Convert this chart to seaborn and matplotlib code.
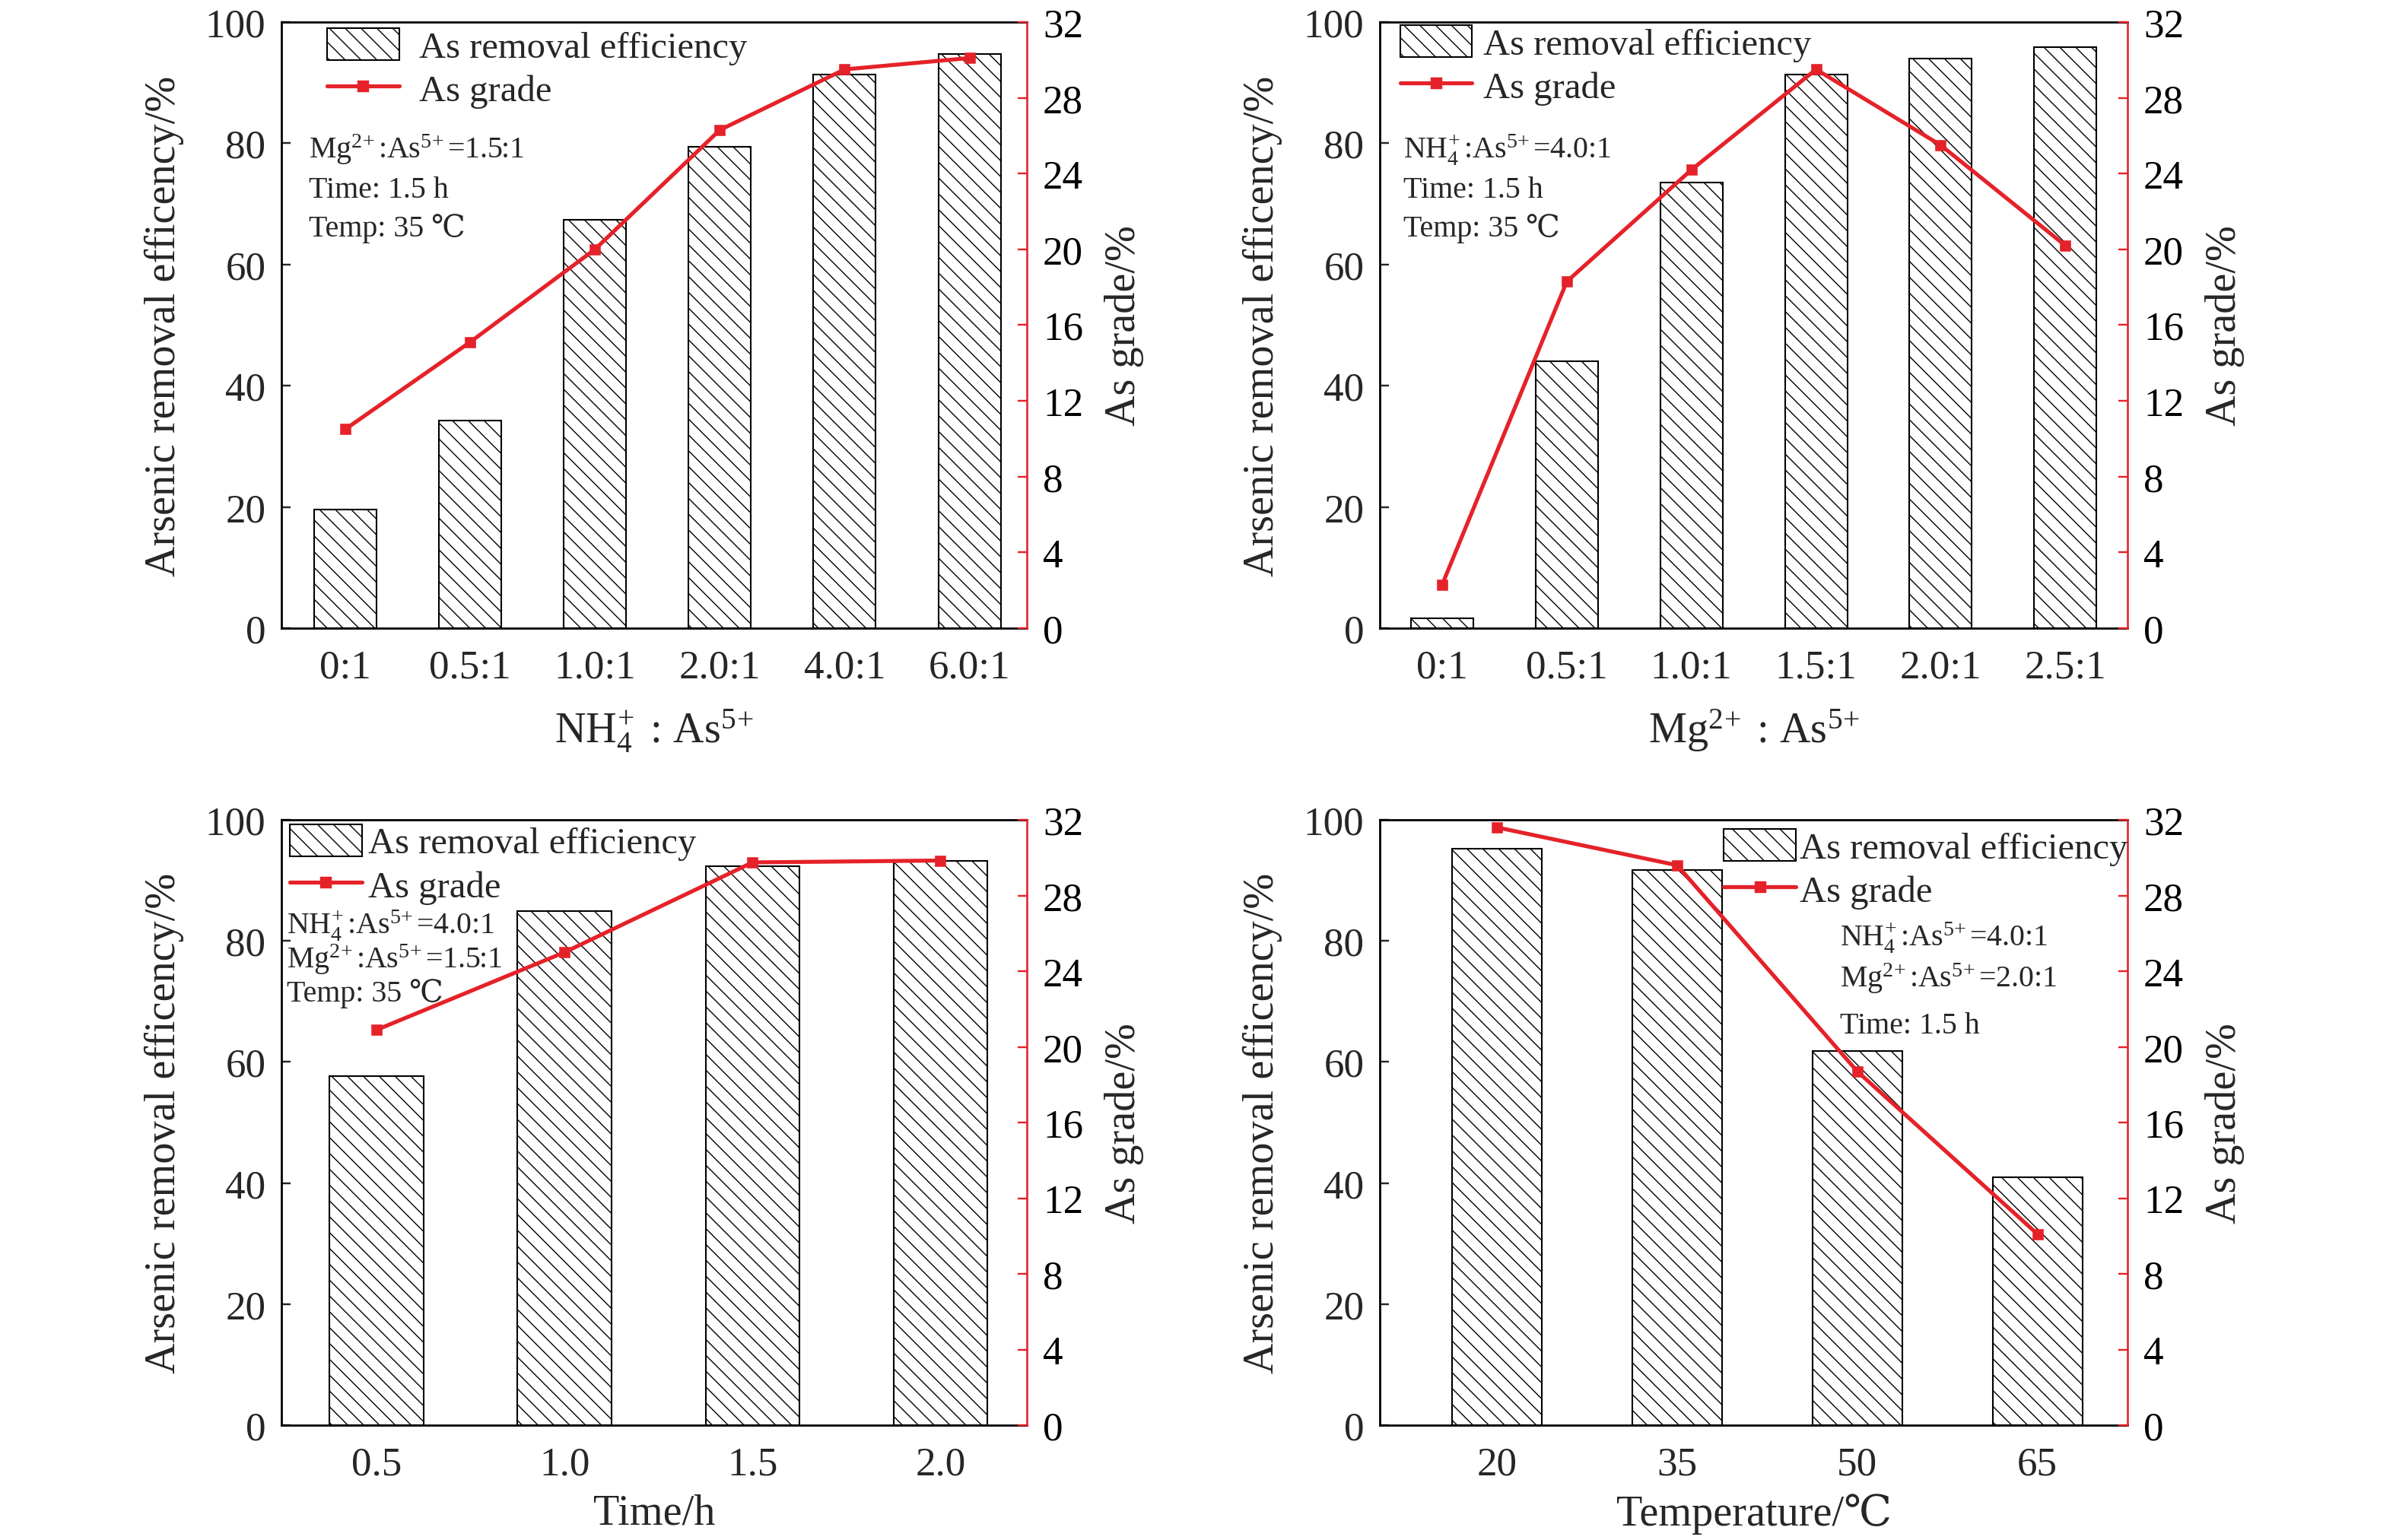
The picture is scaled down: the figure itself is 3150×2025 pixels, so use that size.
import numpy as np
import matplotlib
matplotlib.use("Agg")
import matplotlib.pyplot as plt
from matplotlib.patches import Patch
from matplotlib.lines import Line2D
import seaborn as sns

# ---- data ----
nh4_cats = ["0:1", "0.5:1", "1.0:1", "2.0:1", "4.0:1", "6.0:1"]
nh4_eff = [19.6, 34.3, 67.4, 79.4, 91.3, 94.7]
nh4_grade = [10.5, 15.1, 20.0, 26.3, 29.5, 30.1]

mg_cats = ["0:1", "0.5:1", "1.0:1", "1.5:1", "2.0:1", "2.5:1"]
mg_eff = [1.6, 44.0, 73.5, 91.4, 94.0, 95.8]
mg_grade = [2.3, 18.3, 24.2, 29.5, 25.5, 20.2]

time_cats = ["0.5", "1.0", "1.5", "2.0"]
time_eff = [57.7, 84.9, 92.4, 93.2]
time_grade = [20.9, 25.0, 29.75, 29.85]

temp_cats = ["20", "35", "50", "65"]
temp_eff = [95.2, 91.7, 61.8, 40.9]
temp_grade = [31.6, 29.6, 18.7, 10.1]

DPI = 250
RED = "#e52229"
HATCH = "\\\\\\\\"

sns.set_style("ticks")
plt.rcParams["font.family"] = ["Liberation Serif", "DejaVu Serif"]
plt.rcParams["mathtext.fontset"] = "custom"
plt.rcParams["mathtext.rm"] = "Liberation Serif"
plt.rcParams["mathtext.it"] = "Liberation Serif:italic"
plt.rcParams["mathtext.bf"] = "Liberation Serif:bold"
plt.rcParams["hatch.linewidth"] = 0.4
plt.rcParams["hatch.color"] = "black"

TICK_FS = 15.3
LABEL_FS = 16.2
LEG_FS = 14.0
NOTE_FS = 11.5

fig = plt.figure(figsize=(3150 / DPI, 2026 / DPI), dpi=DPI)


def panel(rect, cats, eff, grade, xlabel, xlim, xpad, leg_xy, textpad, notes, note_x, note_ys):
    ax = fig.add_axes(rect)
    sns.barplot(x=cats, y=eff, order=cats, ax=ax, color="white", saturation=1,
                edgecolor="black", linewidth=0.6, hatch=HATCH, width=0.5)
    ax2 = ax.twinx()
    sns.lineplot(x=np.arange(len(cats)), y=grade, ax=ax2, color=RED, marker="s",
                 markersize=3.6, markeredgecolor=RED, linewidth=1.5, sort=False,
                 legend=False)

    ax.set_ylim(0, 100)
    ax.set_yticks(np.arange(0, 101, 20))
    ax2.set_ylim(0, 32)
    ax2.set_yticks(np.arange(0, 33, 4))
    ax.set_xlim(*xlim)

    for s in ["left", "bottom", "top"]:
        ax.spines[s].set_linewidth(0.8)
        ax.spines[s].set_color("black")
        ax2.spines[s].set_visible(False)
    ax.spines["right"].set_visible(False)
    ax2.spines["right"].set_color(RED)
    ax2.spines["right"].set_linewidth(0.75)

    ax.tick_params(axis="y", direction="in", length=3.5, width=0.7, pad=6,
                   labelsize=TICK_FS)
    ax.tick_params(axis="x", direction="in", length=3.5, width=0.7, pad=8,
                   labelsize=TICK_FS)
    ax2.tick_params(axis="y", direction="in", length=3.5, width=0.7, pad=6,
                    labelsize=TICK_FS, colors=RED, labelcolor="black")

    ax.set_ylabel("Arsenic removal efficency/%", fontsize=LABEL_FS, labelpad=8)
    ax2.set_ylabel("As grade/%", fontsize=LABEL_FS, labelpad=8)
    ax.set_xlabel(xlabel, fontsize=LABEL_FS, labelpad=xpad)

    handles = [
        Patch(facecolor="white", edgecolor="black", hatch=HATCH, linewidth=0.6),
        Line2D([], [], color=RED, marker="s", markersize=3.6, linewidth=1.5),
    ]
    ax2.legend(handles, ["As removal efficiency", "As grade"], loc="upper left",
               bbox_to_anchor=leg_xy, frameon=False, borderpad=0, borderaxespad=0,
               handlelength=1.95, handleheight=0.95, handletextpad=textpad,
               labelspacing=0.2, fontsize=LEG_FS)

    for txt, y in zip(notes, note_ys):
        ax2.text(note_x, y, txt, transform=ax2.transAxes, fontsize=NOTE_FS,
                 va="baseline", ha="left")
    return ax, ax2


panel([0.1175, 0.5918, 0.3111, 0.3934], nh4_cats, nh4_eff, nh4_grade,
      r"NH$_4^{\!+}$ : As$^{5\!+}$", (-0.51, 5.46), 8, (0.061, 0.99), 0.55,
      [r"Mg$^{2\!+}$:As$^{5\!+}$=1.5:1", "Time: 1.5 h", "Temp: 35 ℃"],
      0.037, [0.777, 0.712, 0.648])

panel([0.5759, 0.5918, 0.3121, 0.3934], mg_cats, mg_eff, mg_grade,
      r"Mg$^{2\!+}$ : As$^{5\!+}$", (-0.5, 5.5), 8, (0.027, 0.995), 0.3,
      [r"NH$_4^{\!+}$:As$^{5\!+}$=4.0:1", "Time: 1.5 h", "Temp: 35 ℃"],
      0.031, [0.777, 0.712, 0.648])

panel([0.1175, 0.0745, 0.3111, 0.3929], time_cats, time_eff, time_grade,
      "Time/h", (-0.506, 3.46), 4, (0.011, 0.993), 0.17,
      [r"NH$_4^{\!+}$:As$^{5\!+}$=4.0:1", r"Mg$^{2\!+}$:As$^{5\!+}$=1.5:1", "Temp: 35 ℃"],
      0.007, [0.814, 0.756, 0.701])

panel([0.5759, 0.0745, 0.3121, 0.3929], temp_cats, temp_eff, temp_grade,
      "Temperature/℃", (-0.65, 3.5), 4, (0.46, 0.985), 0.1,
      [r"NH$_4^{\!+}$:As$^{5\!+}$=4.0:1", r"Mg$^{2\!+}$:As$^{5\!+}$=2.0:1", "Time: 1.5 h"],
      0.615, [0.793, 0.725, 0.648])

fig.savefig("out.png", dpi=DPI, facecolor="white")
